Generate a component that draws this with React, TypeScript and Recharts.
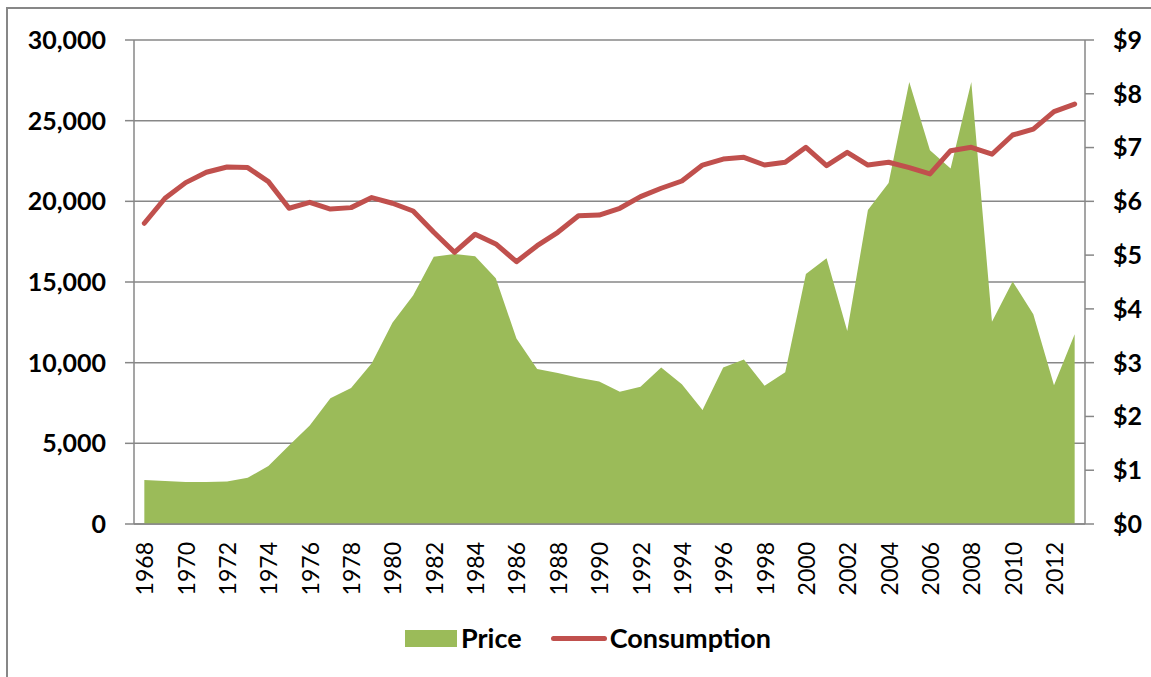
import { Area, CartesianGrid, ComposedChart, Legend, Line, XAxis, YAxis } from "recharts";

const years = [
  1968, 1969, 1970, 1971, 1972, 1973, 1974, 1975, 1976, 1977, 1978, 1979, 1980, 1981, 1982, 1983,
  1984, 1985, 1986, 1987, 1988, 1989, 1990, 1991, 1992, 1993, 1994, 1995, 1996, 1997, 1998, 1999,
  2000, 2001, 2002, 2003, 2004, 2005, 2006, 2007, 2008, 2009, 2010, 2011, 2012, 2013,
];

// dollars, right axis
const price = [
  0.82, 0.8, 0.78, 0.78, 0.79, 0.86, 1.08, 1.46, 1.83, 2.34, 2.53, 2.99, 3.74, 4.25, 4.97, 5.02,
  4.98, 4.57, 3.45, 2.88, 2.81, 2.72, 2.65, 2.46, 2.55, 2.91, 2.6, 2.12, 2.91, 3.06, 2.57, 2.82,
  4.65, 4.94, 3.59, 5.84, 6.34, 8.22, 6.95, 6.61, 8.22, 3.76, 4.51, 3.9, 2.58, 3.53,
];

// left axis
const consumption = [
  18640, 20190, 21160, 21800, 22130, 22090, 21220, 19570, 19940, 19520, 19610, 20230, 19880, 19400,
  18080, 16840, 17960, 17360, 16260, 17250, 18080, 19110, 19150, 19570, 20290, 20810, 21260, 22250,
  22620, 22730, 22250, 22420, 23350, 22210, 23040, 22250, 22420, 22090, 21700, 23140, 23350, 22920,
  24110, 24480, 25560, 26030,
];

const leftTicks = [0, 5000, 10000, 15000, 20000, 25000, 30000];
const rightTicks = [0, 1, 2, 3, 4, 5, 6, 7, 8, 9];
const edgeTicks = years.map((_, i) => i).concat(years.length);

const data = years.map((year, i) => ({
  year,
  price: price[i],
  consumption: consumption[i],
}));

const GRAY = "#878787";
const GREEN = "#9BBB59";
const RED = "#C0504D";
const FONT = "Lato, 'Liberation Sans', sans-serif";

const labelStyle = { fill: "#000", fontSize: 25, fontWeight: 700, fontFamily: FONT };

function YearTick(props: any) {
  const { x, y, payload } = props;
  return (
    <g transform={`translate(${x},${y})`}>
      <text
        transform="rotate(-90)"
        textAnchor="end"
        dominantBaseline="central"
        fill="#000"
        fontSize={23}
        fontFamily={FONT}
      >
        {payload.value}
      </text>
    </g>
  );
}

function LegendBox() {
  const text = { fontSize: 27, fontWeight: 700, fontFamily: FONT, color: "#000", lineHeight: "30px" };
  return (
    <div style={{ display: "flex", alignItems: "center" }}>
      <span style={{ width: 52, height: 17, background: GREEN, marginRight: 4 }} />
      <span style={text}>Price</span>
      <span
        style={{ width: 56, height: 5, borderRadius: 3, background: RED, marginLeft: 29, marginRight: 3 }}
      />
      <span style={text}>Consumption</span>
    </div>
  );
}

export default function App() {
  return (
    <div style={{ position: "absolute", left: 0, top: 0, width: 1151, height: 677, overflow: "hidden", background: "#fff" }}>
      <div
        style={{
          position: "absolute",
          left: 6,
          top: 7,
          width: 1200,
          height: 700,
          border: `2px solid ${GRAY}`,
        }}
      />
      <div style={{ position: "absolute", left: 0, top: 0 }}>
        <ComposedChart width={1151} height={677} data={data} margin={{ top: 40, right: 0, bottom: 0, left: 0 }}>
          <CartesianGrid vertical={false} yAxisId="left" stroke={GRAY} strokeWidth={1.5} />
          <XAxis
            xAxisId="edges"
            type="number"
            domain={[0, years.length]}
            ticks={edgeTicks}
            interval={0}
            tick={false}
            axisLine={false}
            height={0}
            tickSize={8}
            tickLine={{ stroke: GRAY, strokeWidth: 1.5 }}
          />
          <XAxis
            dataKey="year"
            scale="band"
            interval={1}
            height={153}
            tickLine={false}
            tickSize={8}
            tickMargin={10}
            axisLine={{ stroke: GRAY, strokeWidth: 1.5 }}
            tick={<YearTick />}
          />
          <YAxis
            yAxisId="left"
            width={134}
            domain={[0, 30000]}
            ticks={leftTicks}
            interval={0}
            tickFormatter={(v: number) => v.toLocaleString("en-US")}
            tick={labelStyle}
            tickSize={9}
            tickMargin={19}
            tickLine={{ stroke: GRAY, strokeWidth: 1.5 }}
            axisLine={{ stroke: GRAY, strokeWidth: 1.5 }}
          />
          <YAxis
            yAxisId="right"
            orientation="right"
            width={66}
            domain={[0, 9]}
            ticks={rightTicks}
            interval={0}
            tickFormatter={(v: number) => `$${v}`}
            tick={labelStyle}
            tickSize={9}
            tickMargin={19}
            tickLine={{ stroke: GRAY, strokeWidth: 1.5 }}
            axisLine={{ stroke: GRAY, strokeWidth: 1.5 }}
          />
          <Area
            yAxisId="right"
            dataKey="price"
            name="Price"
            type="linear"
            fill={GREEN}
            fillOpacity={1}
            stroke="none"
            isAnimationActive={false}
          />
          <Line
            yAxisId="left"
            dataKey="consumption"
            name="Consumption"
            type="linear"
            stroke={RED}
            strokeWidth={5}
            strokeLinejoin="round"
            strokeLinecap="round"
            dot={false}
            activeDot={false}
            isAnimationActive={false}
          />
          <Legend
            verticalAlign="middle"
            wrapperStyle={{ left: 405, top: 623, width: "auto" }}
            content={() => <LegendBox />}
          />
        </ComposedChart>
      </div>
    </div>
  );
}
